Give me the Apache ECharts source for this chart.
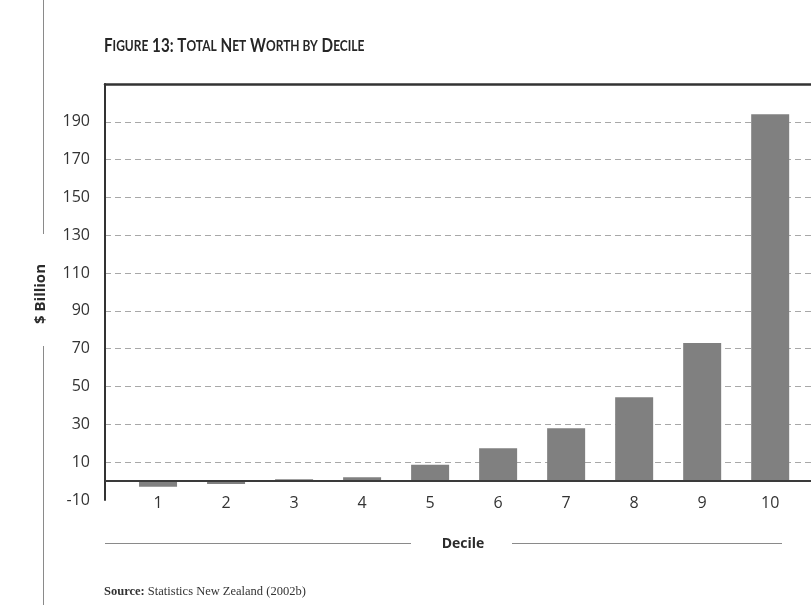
<!DOCTYPE html>
<html>
<head>
<meta charset="utf-8">
<script src="https://cdn.jsdelivr.net/npm/echarts@6/dist/echarts.min.js"></script>
<style>
  html, body { margin: 0; padding: 0; background: #fff; }
  #chart { width: 811px; height: 605px; }
</style>
</head>
<body>
<div id="chart"></div>
<script>
// Total net worth per decile, $ billion
const deciles = [1, 2, 3, 4, 5, 6, 7, 8, 9, 10];
const netWorth = [-3, -1.5, 1, 2, 8.6, 17.4, 28, 44.4, 73, 194];
const yTicks = { min: -10, max: 210, step: 20 };

const chart = echarts.init(document.getElementById('chart'), null, { renderer: 'canvas' });

const sansFont = '"Open Sans", "Noto Sans", sans-serif';
const titleFont = 'Lato, "Open Sans", sans-serif';
const serifFont = '"Liberation Serif", "DejaVu Serif", serif';

chart.setOption({
  animation: false,
  backgroundColor: '#ffffff',
  grid: { left: 105, right: 0, top: 84, bottom: 105, containLabel: false },
  xAxis: [
    {
      type: 'value',
      min: 0.22,
      max: 10.6,
      axisLine: { show: false, onZero: false },
      axisTick: { show: false },
      splitLine: { show: false },
      axisLabel: {
        customValues: deciles,
        margin: -5,
        fontFamily: sansFont,
        fontSize: 16,
        color: '#333'
      }
    },
    {
      type: 'value',
      position: 'top',
      min: 0.22,
      max: 10.6,
      axisLine: { show: true, onZero: false, lineStyle: { color: '#333', width: 2.5 } },
      axisTick: { show: false },
      axisLabel: { show: false },
      splitLine: { show: false }
    }
  ],
  yAxis: {
    type: 'value',
    min: yTicks.min,
    max: yTicks.max,
    interval: yTicks.step,
    axisLine: { show: true, onZero: false, lineStyle: { color: '#333', width: 2 } },
    axisTick: { show: false },
    axisLabel: {
      margin: 15,
      fontFamily: sansFont,
      fontSize: 16,
      color: '#333',
      formatter: v => (v === yTicks.max ? '' : String(v))
    },
    splitLine: {
      show: true,
      showMinLine: false,
      showMaxLine: false,
      lineStyle: { color: '#a8a8a8', type: [6, 4], width: 1 }
    }
  },
  graphic: [
    // small-caps heading, set in a condensed width
    {
      type: 'text',
      x: 104, y: 46,
      scaleX: 0.8,
      style: {
        text: '{c|F}{s|IGURE}{c| 13: T}{s|OTAL}{c| N}{s|ET}{c| W}{s|ORTH BY}{c| D}{s|ECILE}',
        verticalAlign: 'middle',
        rich: {
          c: { fontFamily: titleFont, fontWeight: 'bold', fontSize: 19, fill: '#262626' },
          s: { fontFamily: titleFont, fontWeight: 'bold', fontSize: 15, fill: '#262626' }
        }
      }
    },
    // vertical rule broken by the y-axis title
    { type: 'line', shape: { x1: 43.5, y1: 0, x2: 43.5, y2: 234 }, style: { stroke: '#8a8a8a', lineWidth: 1 } },
    { type: 'line', shape: { x1: 43.5, y1: 346, x2: 43.5, y2: 605 }, style: { stroke: '#8a8a8a', lineWidth: 1 } },
    {
      type: 'text',
      x: 41, y: 294,
      rotation: Math.PI / 2,
      style: {
        text: '$ Billion',
        font: 'bold 15px ' + sansFont,
        fill: '#2b2b2b',
        align: 'center',
        verticalAlign: 'middle'
      }
    },
    // x-axis title with rules either side
    { type: 'line', shape: { x1: 105, y1: 543.5, x2: 411, y2: 543.5 }, style: { stroke: '#8a8a8a', lineWidth: 1 } },
    { type: 'line', shape: { x1: 512, y1: 543.5, x2: 782, y2: 543.5 }, style: { stroke: '#8a8a8a', lineWidth: 1 } },
    {
      type: 'text',
      x: 463, y: 544,
      style: {
        text: 'Decile',
        font: 'bold 14px ' + sansFont,
        fill: '#2b2b2b',
        align: 'center',
        verticalAlign: 'middle'
      }
    },
    {
      type: 'text',
      x: 104, y: 592,
      style: {
        rich: {
          b: { fontFamily: serifFont, fontWeight: 'bold', fontSize: 12.5, fill: '#333' },
          n: { fontFamily: serifFont, fontSize: 12.5, fill: '#333' }
        },
        text: '{b|Source:}{n| Statistics New Zealand (2002b)}',
        verticalAlign: 'middle'
      }
    }
  ],
  series: [
    {
      type: 'bar',
      xAxisIndex: 0,
      barWidth: 38,
      itemStyle: { color: '#808080' },
      data: deciles.map((d, i) => [d, netWorth[i]]),
      markLine: {
        silent: true,
        symbol: 'none',
        label: { show: false },
        lineStyle: { color: '#3a3a3a', width: 2, type: 'solid' },
        data: [{ yAxis: 0 }]
      }
    }
  ]
});
</script>
</body>
</html>
